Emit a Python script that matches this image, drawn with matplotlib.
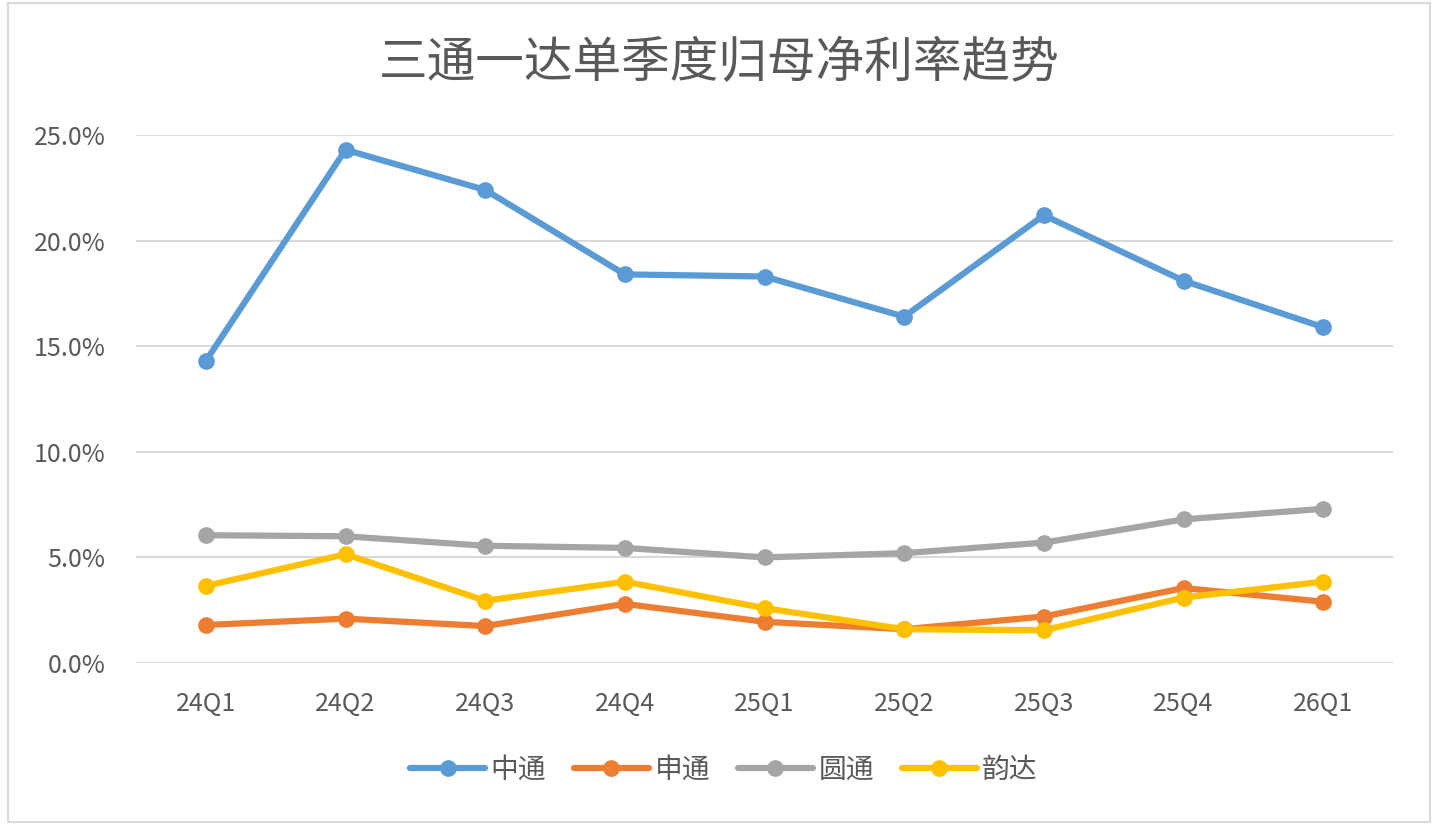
import matplotlib.pyplot as plt
from matplotlib.patches import Rectangle
from matplotlib.ticker import FuncFormatter

plt.rcParams['font.family'] = ['Noto Sans CJK SC', 'DejaVu Sans']

quarters = ["24Q1", "24Q2", "24Q3", "24Q4", "25Q1", "25Q2", "25Q3", "25Q4", "26Q1"]
zto = [14.3, 24.3, 22.4, 18.4, 18.3, 16.4, 21.2, 18.1, 15.9]
sto = [1.8, 2.1, 1.75, 2.8, 1.95, 1.6, 2.2, 3.55, 2.9]
yto = [6.05, 6.0, 5.55, 5.45, 5.0, 5.2, 5.7, 6.8, 7.3]
yunda = [3.65, 5.15, 2.95, 3.85, 2.6, 1.6, 1.55, 3.1, 3.85]

series = [("中通", zto, "#5B9BD5"), ("申通", sto, "#ED7D31"),
          ("圆通", yto, "#A5A5A5"), ("韵达", yunda, "#FFC000")]

fig = plt.figure(figsize=(14.39, 8.33), dpi=100)
fig.patches.append(Rectangle((8 / 1439, 1 - 822 / 833), 1422 / 1439, 819 / 833,
                             transform=fig.transFigure, fill=False,
                             edgecolor="#D9D9D9", linewidth=1.5))

ax = fig.add_axes([136 / 1439, 1 - 663 / 833, 1257 / 1439, 528 / 833])
x = range(len(quarters))
for name, vals, color in series:
    ax.plot(x, [v / 100 for v in vals], color=color, linewidth=4.5,
            marker="o", markersize=11, label=name, solid_capstyle="round")

ax.set_xlim(-0.5, len(quarters) - 0.5)
ax.set_ylim(0, 0.25)
ax.set_yticks([0, 0.05, 0.10, 0.15, 0.20, 0.25])
ax.yaxis.set_major_formatter(FuncFormatter(lambda v, p: f"{v * 100:.1f}%"))
ax.set_xticks(list(x))
ax.set_xticklabels(quarters)
ax.grid(axis="y", color="#D9D9D9", linewidth=1.5)
ax.set_axisbelow(True)
for s in ax.spines.values():
    s.set_visible(False)
ax.tick_params(length=0, labelsize=18, colors="#595959")
ax.tick_params(axis="x", pad=20)
ax.tick_params(axis="y", pad=22)
for lbl in ax.get_xticklabels() + ax.get_yticklabels():
    lbl.set_fontweight("light")

fig.text(0.5, 1 - 63 / 833, "三通一达单季度归母净利率趋势", ha="center", va="center",
         fontsize=35, color="#595959", fontweight="light")

leg = fig.legend(loc="center", bbox_to_anchor=(0.503, 1 - 770 / 833), ncol=4,
                 frameon=False, fontsize=20, labelcolor="#595959", handlelength=2.7,
                 columnspacing=1.0, handletextpad=0.2)
for t in leg.get_texts():
    t.set_fontweight("light")

fig.savefig("out.png", dpi=100)
